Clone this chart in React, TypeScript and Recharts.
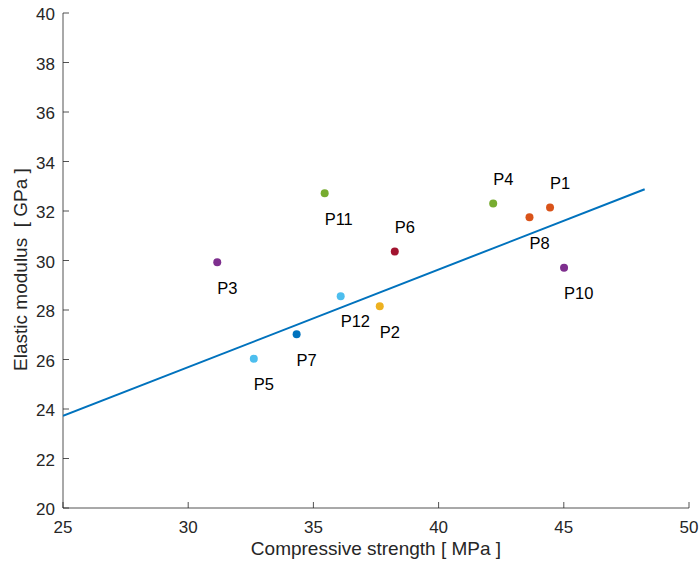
import { ScatterChart, Scatter, XAxis, YAxis, Cell } from 'recharts'

// Mix properties: compressive strength vs elastic modulus
const mixNames = ['P1', 'P2', 'P3', 'P4', 'P5', 'P6', 'P7', 'P8', 'P10', 'P11', 'P12']
const strengthMPa = [44.45, 37.65, 31.16, 42.18, 32.62, 38.25, 34.33, 43.63, 45.01, 35.45, 36.09]
const modulusGPa = [32.14, 28.15, 29.93, 32.3, 26.03, 30.36, 27.02, 31.75, 29.71, 32.72, 28.56]
const mixColors = ['#D95319', '#EDB120', '#7E2F8E', '#77AC30', '#4DBEEE', '#A2142F', '#0072BD', '#D95319', '#7E2F8E', '#77AC30', '#4DBEEE']
const labelsAbove = ['P1', 'P4', 'P6']

// Linear fit end points
const fitX = [25, 48.23]
const fitY = [23.72, 32.88]

const xTicks = [25, 30, 35, 40, 45, 50]
const yTicks = [20, 22, 24, 26, 28, 30, 32, 34, 36, 38, 40]

const FONT = '"Liberation Sans", Arial, Helvetica, sans-serif'
const INK = '#262626'
const TICK = 6

const points = mixNames.map((name, i) => ({ name, x: strengthMPa[i], y: modulusGPa[i] }))
const labelPoints = mixNames.map((name, i) => ({
  name,
  x: strengthMPa[i],
  y: modulusGPa[i] + (labelsAbove.includes(name) ? 1 : -1),
}))
const fitLine = fitX.map((x, i) => ({ x, y: fitY[i] }))

const BottomTick = ({ x, y, payload }: any) => (
  <g>
    <line x1={x} y1={y} x2={x} y2={y - TICK} stroke={INK} strokeWidth={0.8} />
    <text x={x} y={y + 19} dy="0.38em" textAnchor="middle" fontSize={17} fill={INK} fontFamily={FONT}>
      {payload.value}
    </text>
  </g>
)

const TopTick = ({ x, y }: any) => <line x1={x} y1={y} x2={x} y2={y + TICK} stroke={INK} strokeWidth={0.8} />

const LeftTick = ({ x, y, payload }: any) => (
  <g>
    <line x1={x} y1={y} x2={x + TICK} y2={y} stroke={INK} strokeWidth={0.8} />
    <text x={x - 8} y={y + 1} dy="0.38em" textAnchor="end" fontSize={17} fill={INK} fontFamily={FONT}>
      {payload.value}
    </text>
  </g>
)

const RightTick = ({ x, y }: any) => <line x1={x} y1={y} x2={x - TICK} y2={y} stroke={INK} strokeWidth={0.8} />

const Dot = ({ cx, cy, fill }: any) => <circle cx={cx} cy={cy} r={4} fill={fill} />

const NameText = ({ cx, cy, payload }: any) => (
  <text x={cx} y={cy} dy="0.4em" textAnchor="start" fontSize={16.5} fill="#000" fontFamily={FONT}>
    {payload.name}
  </text>
)

const XTitle = ({ viewBox }: any) => (
  <text
    x={viewBox.x + viewBox.width / 2}
    y={viewBox.y + 42}
    textAnchor="middle"
    dominantBaseline="middle"
    fontSize={19}
    fill={INK}
    fontFamily={FONT}
  >
    Compressive strength [ MPa ]
  </text>
)

const YTitle = ({ viewBox }: any) => {
  const cx = viewBox.x + 22
  const cy = viewBox.y + viewBox.height / 2 + 9
  return (
    <text
      x={cx}
      y={cy}
      transform={`rotate(-90 ${cx} ${cy})`}
      textAnchor="middle"
      dominantBaseline="middle"
      fontSize={19}
      fill={INK}
      fontFamily={FONT}
      style={{ whiteSpace: 'pre' }}
    >
      {'Elastic modulus  [ GPa ]'}
    </text>
  )
}

export default function App() {
  return (
    <div style={{ position: 'absolute', left: 0, top: 0, background: '#fff' }}>
      <ScatterChart width={700} height={563} margin={{ top: 13, right: 11, bottom: 0, left: 0 }}>
        <XAxis
          xAxisId="b"
          type="number"
          dataKey="x"
          domain={[25, 50]}
          ticks={xTicks}
          height={55}
          tickSize={0}
          tickMargin={0}
          tickLine={false}
          axisLine={{ stroke: INK, strokeWidth: 0.8 }}
          tick={<BottomTick />}
          allowDataOverflow
          label={<XTitle />}
        />
        <XAxis
          xAxisId="t"
          orientation="top"
          type="number"
          dataKey="x"
          domain={[25, 50]}
          ticks={xTicks}
          height={0}
          tickSize={0}
          tickMargin={0}
          tickLine={false}
          axisLine={{ stroke: INK, strokeWidth: 0.8 }}
          tick={<TopTick />}
          allowDataOverflow
        />
        <YAxis
          yAxisId="l"
          type="number"
          dataKey="y"
          domain={[20, 40]}
          ticks={yTicks}
          width={63}
          tickSize={0}
          tickMargin={0}
          tickLine={false}
          axisLine={{ stroke: INK, strokeWidth: 0.8 }}
          tick={<LeftTick />}
          allowDataOverflow
          label={<YTitle />}
        />
        <YAxis
          yAxisId="r"
          orientation="right"
          type="number"
          dataKey="y"
          domain={[20, 40]}
          ticks={yTicks}
          width={0}
          tickSize={0}
          tickMargin={0}
          tickLine={false}
          axisLine={{ stroke: INK, strokeWidth: 0.8 }}
          tick={<RightTick />}
          allowDataOverflow
        />
        <Scatter
          xAxisId="b"
          yAxisId="l"
          data={fitLine}
          line={{ stroke: '#0072BD', strokeWidth: 2 }}
          shape={() => null}
          isAnimationActive={false}
        />
        <Scatter xAxisId="b" yAxisId="l" data={points} shape={<Dot />} isAnimationActive={false}>
          {points.map((p, i) => (
            <Cell key={p.name} fill={mixColors[i]} />
          ))}
        </Scatter>
        <Scatter xAxisId="b" yAxisId="l" data={labelPoints} shape={<NameText />} isAnimationActive={false} />
      </ScatterChart>
    </div>
  )
}
